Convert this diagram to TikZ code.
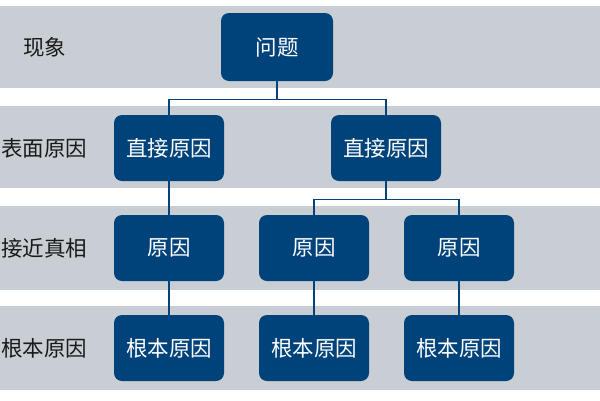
\documentclass[tikz,border=0pt]{standalone}
\usepackage{fontspec}
\setmainfont{Noto Sans CJK SC}
\definecolor{bandgray}{HTML}{C8CED3}
\definecolor{nodeblue}{HTML}{00427A}
\definecolor{labelcol}{HTML}{1A1A1A}
\tikzset{
  box/.style={fill=nodeblue, rounded corners=8pt, minimum width=110pt, minimum height=66pt,
    text=white, inner sep=0pt, font=\fontsize{21.5}{24}\selectfont},
  rowlabel/.style={anchor=west, text=labelcol, inner sep=0pt, font=\fontsize{21.5}{24}\selectfont},
  conn/.style={draw=nodeblue, line width=1.3pt}
}
\begin{document}
\begin{tikzpicture}[x=1pt,y=-1pt]
\useasboundingbox (0,0) rectangle (600,400);
% bands
\fill[bandgray] (0,6) rectangle (600,88);
\fill[bandgray] (0,106) rectangle (600,188);
\fill[bandgray] (0,206) rectangle (600,290);
\fill[bandgray] (0,306) rectangle (600,390);
% row labels
\node[rowlabel] (l1) at (23,47) {现象};
\node[rowlabel] (l2) at (1,148) {表面原因};
\node[rowlabel] (l3) at (1,248) {接近真相};
\node[rowlabel] (l4) at (1,348) {根本原因};
% nodes
\node[box, minimum width=112pt, minimum height=68pt] (q) at (277,47) {问题};
\node[box] (d1) at (169,148) {直接原因};
\node[box] (d2) at (386,148) {直接原因};
\node[box] (r1) at (169,248) {原因};
\node[box] (r2) at (314,248) {原因};
\node[box] (r3) at (459,248) {原因};
\node[box] (g1) at (169,348) {根本原因};
\node[box] (g2) at (314,348) {根本原因};
\node[box] (g3) at (459,348) {根本原因};
% connectors
\draw[conn] (q.south) -- ++(0,18) -| (d1.north);
\draw[conn] (q.south) -- ++(0,18) -| (d2.north);
\draw[conn] (d2.south) -- ++(0,18) -| (r2.north);
\draw[conn] (d2.south) -- ++(0,18) -| (r3.north);
\draw[conn] (d1) -- (r1);
\draw[conn] (r1) -- (g1);
\draw[conn] (r2) -- (g2);
\draw[conn] (r3) -- (g3);
\end{tikzpicture}
\end{document}
